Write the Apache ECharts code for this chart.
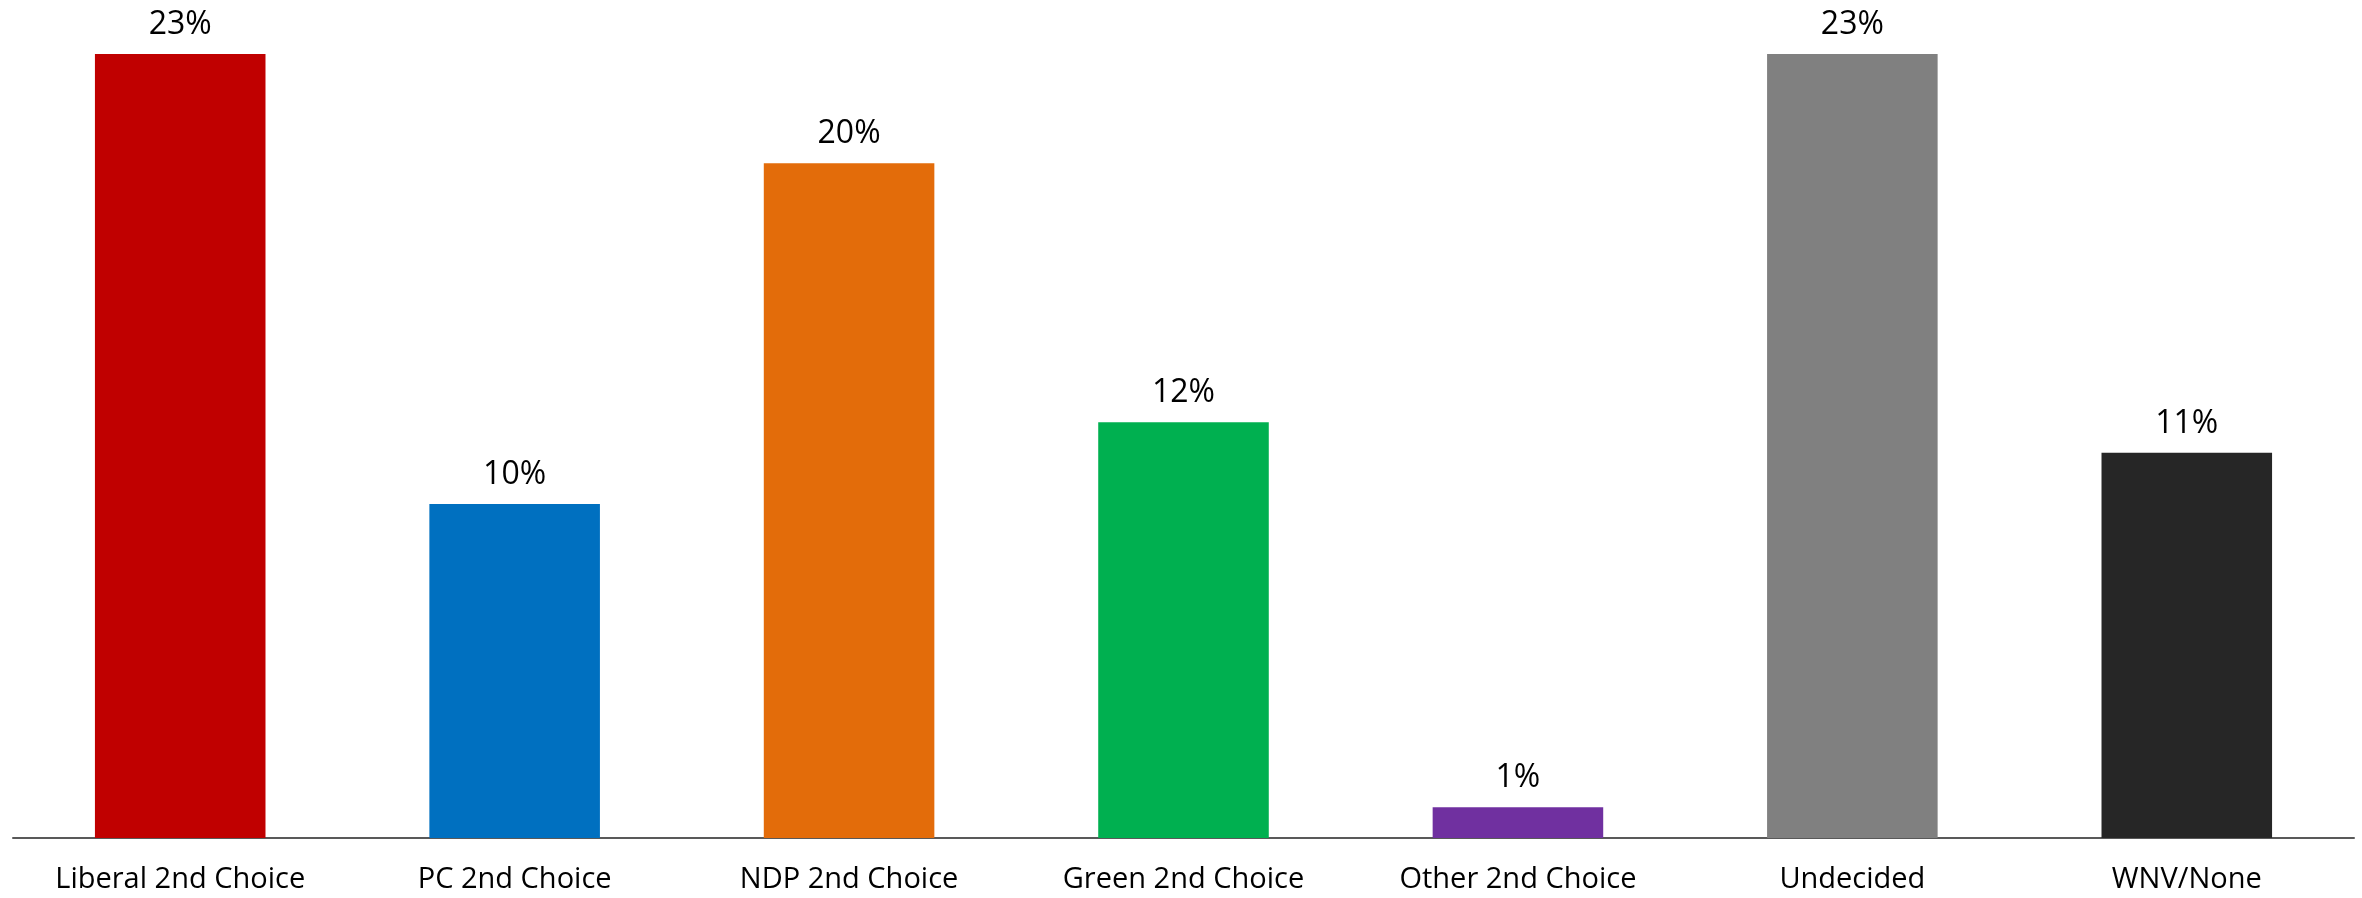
<!DOCTYPE html>
<html><head><meta charset="utf-8">
<script src="https://cdn.jsdelivr.net/npm/echarts@6/dist/echarts.min.js"></script>
<style>html,body{margin:0;padding:0;background:#fff}#c{width:2362px;height:898px}</style>
</head><body><div id="c"></div>
<script>
const categories = ['Liberal 2nd Choice','PC 2nd Choice','NDP 2nd Choice','Green 2nd Choice','Other 2nd Choice','Undecided','WNV/None'];
const values = [23.0, 9.8, 19.8, 12.2, 0.9, 23.0, 11.3];
const labels = ['23%','10%','20%','12%','1%','23%','11%'];
const colors = ['#C00000','#0070C0','#E36C0A','#00B050','#7030A0','#808080','#262626'];

const chart = echarts.init(document.getElementById('c'));
chart.setOption({
  animation:false,
  grid:{left:13,right:8,top:20,bottom:60,containLabel:false},
  xAxis:{type:'category',data:categories,
    axisLine:{lineStyle:{color:'#595959',width:2}},
    axisTick:{show:false},
    axisLabel:{color:'#000',fontSize:29,fontFamily:'"Liberation Sans Narrow","Open Sans",sans-serif',margin:27}},
  yAxis:{type:'value',min:0,max:24,show:false,splitLine:{show:false}},
  series:[{type:'bar',barWidth:'51%',
    data:values.map((v,i)=>({value:v,itemStyle:{color:colors[i]}})),
    label:{show:true,position:'top',distance:13,color:'#000',fontSize:32,
      fontFamily:'"Open Sans",sans-serif',
      formatter:p=>labels[p.dataIndex]}}]
});
</script></body></html>
